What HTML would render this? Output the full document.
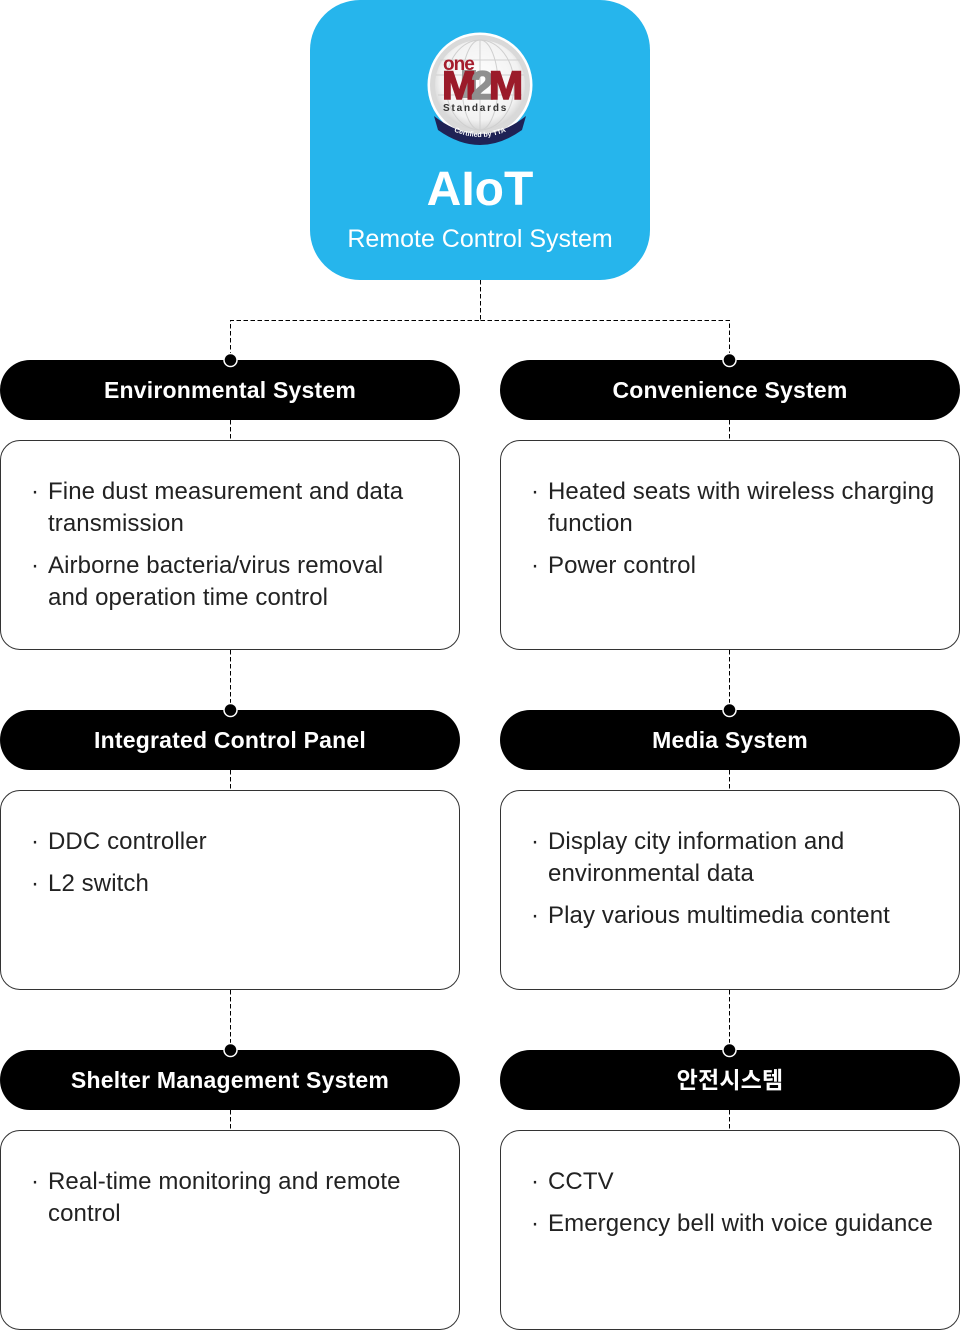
<!DOCTYPE html>
<html>
<head>
<meta charset="utf-8">
<style>
  html,body{margin:0;padding:0;background:#fff;}
  body{width:960px;height:1330px;position:relative;overflow:hidden;font-family:"Liberation Sans","Noto Sans CJK KR",sans-serif;}
  .top{position:absolute;left:310px;top:0;width:340px;height:280px;background:#26b5ec;border-radius:50px;}
  .aiot{position:absolute;left:0;width:340px;top:160px;text-align:center;color:#fff;font-weight:bold;font-size:48px;line-height:60px;}
  .rcs{position:absolute;left:0;width:340px;top:223px;text-align:center;color:#fff;font-size:25px;line-height:32px;}
  .pill{position:absolute;width:460px;height:60px;background:#000;border-radius:30px;color:#fff;font-weight:bold;font-size:23px;line-height:60px;text-align:center;letter-spacing:0.2px;}
  .box{position:absolute;width:458px;border:1px solid #333;border-radius:20px;background:#fff;box-sizing:content-box;}
  .items{position:absolute;left:0;top:35px;right:0;}
  .it{position:relative;padding-left:47px;font-size:24px;line-height:32px;color:#222;letter-spacing:0.1px;margin-bottom:10px;white-space:nowrap;}
  .it:before{content:"·";position:absolute;left:30px;top:0;}
  svg.lines{position:absolute;left:0;top:0;}
</style>
</head>
<body>

<svg class="lines" width="960" height="1330" viewBox="0 0 960 1330">
  <g stroke="#000" stroke-width="1" fill="none" stroke-dasharray="4.5 2.5">
    <path d="M480.5 280 V320.5 H230.5 V360"/>
    <path d="M480.5 320.5 H729.5 V360"/>
    <path d="M230.5 420 V440"/>
    <path d="M729.5 420 V440"/>
    <path d="M230.5 650 V710"/>
    <path d="M729.5 650 V710"/>
    <path d="M230.5 770 V790"/>
    <path d="M729.5 770 V790"/>
    <path d="M230.5 990 V1050"/>
    <path d="M729.5 990 V1050"/>
    <path d="M230.5 1110 V1130"/>
    <path d="M729.5 1110 V1130"/>
  </g>
</svg>

<div class="top">
  <svg width="340" height="160" viewBox="310 0 340 160" style="position:absolute;left:0;top:0;">
    <defs>
      <radialGradient id="rg" cx="50%" cy="45%" r="55%">
        <stop offset="0" stop-color="#ffffff"/>
        <stop offset="0.8" stop-color="#f2f2f2"/>
        <stop offset="1" stop-color="#d4d4d4"/>
      </radialGradient>
      <path id="arc" d="M440 124 Q480 150 520 124"/>
    </defs>
    <circle cx="480" cy="85" r="52.5" fill="#fff"/>
    <circle cx="480" cy="85" r="50" fill="#d9d9d9"/>
    <circle cx="480" cy="85" r="45" fill="url(#rg)"/>
    <g stroke="#cfcfcf" stroke-width="1" fill="none">
      <ellipse cx="480" cy="85" rx="18" ry="45"/>
      <ellipse cx="480" cy="85" rx="34" ry="45"/>
      <line x1="480" y1="40" x2="480" y2="130"/>
      <line x1="436" y1="75" x2="524" y2="75"/>
      <line x1="440" y1="60" x2="520" y2="60"/>
      <line x1="438" y1="95" x2="522" y2="95"/>
    </g>
    <text x="443" y="70" font-family="Liberation Sans, sans-serif" font-weight="bold" font-size="19" fill="#a51d2d" letter-spacing="-1">one</text>
    <rect x="462" y="70" width="14" height="28" fill="#9a9a9a"/>
    <text x="442" y="99" font-family="Liberation Sans, sans-serif" font-weight="bold" font-size="40" fill="#9b1b2a" letter-spacing="-5" textLength="76" lengthAdjust="spacingAndGlyphs" stroke="#9b1b2a" stroke-width="1.5">M<tspan fill="#8f8f8f" stroke="#8f8f8f">2</tspan>M</text>
    <text x="443" y="111" font-family="Liberation Sans, sans-serif" font-weight="bold" font-size="10" fill="#333" letter-spacing="1.8">Standards</text>
    <path d="M434 116 Q480 152 526 116 L522 130 Q480 160 438 130 Z" fill="#1f2255"/>
    <text font-family="Liberation Sans, sans-serif" font-size="7" font-weight="bold" fill="#fff"><textPath href="#arc" startOffset="50%" text-anchor="middle">Certified by TTA</textPath></text>
  </svg>
  <div class="aiot">AIoT</div>
  <div class="rcs">Remote Control System</div>
</div>

<!-- Row 1 -->
<div class="pill" style="left:0;top:360px;">Environmental System</div>
<div class="pill" style="left:500px;top:360px;">Convenience System</div>
<div class="box" style="left:0;top:440px;height:208px;">
  <div class="items">
    <div class="it">Fine dust measurement and data<br>transmission</div>
    <div class="it">Airborne bacteria/virus removal<br>and operation time control</div>
  </div>
</div>
<div class="box" style="left:500px;top:440px;height:208px;">
  <div class="items">
    <div class="it">Heated seats with wireless charging<br>function</div>
    <div class="it">Power control</div>
  </div>
</div>

<!-- Row 2 -->
<div class="pill" style="left:0;top:710px;">Integrated Control Panel</div>
<div class="pill" style="left:500px;top:710px;">Media System</div>
<div class="box" style="left:0;top:790px;height:198px;">
  <div class="items">
    <div class="it">DDC controller</div>
    <div class="it">L2 switch</div>
  </div>
</div>
<div class="box" style="left:500px;top:790px;height:198px;">
  <div class="items">
    <div class="it">Display city information and<br>environmental data</div>
    <div class="it">Play various multimedia content</div>
  </div>
</div>

<!-- Row 3 -->
<div class="pill" style="left:0;top:1050px;">Shelter Management System</div>
<div class="pill" style="left:500px;top:1050px;font-family:'Liberation Sans','Noto Sans CJK KR',sans-serif;">안전시스템</div>
<div class="box" style="left:0;top:1130px;height:198px;">
  <div class="items">
    <div class="it">Real-time monitoring and remote<br>control</div>
  </div>
</div>
<div class="box" style="left:500px;top:1130px;height:198px;">
  <div class="items">
    <div class="it">CCTV</div>
    <div class="it">Emergency bell with voice guidance</div>
  </div>
</div>

<svg class="lines" width="960" height="1330" viewBox="0 0 960 1330" style="pointer-events:none;">
  <g fill="#000" stroke="#fff" stroke-width="1.5">
    <circle cx="230.5" cy="360" r="6.5"/>
    <circle cx="729.5" cy="360" r="6.5"/>
    <circle cx="230.5" cy="710" r="6.5"/>
    <circle cx="729.5" cy="710" r="6.5"/>
    <circle cx="230.5" cy="1050" r="6.5"/>
    <circle cx="729.5" cy="1050" r="6.5"/>
  </g>
</svg>

</body>
</html>
